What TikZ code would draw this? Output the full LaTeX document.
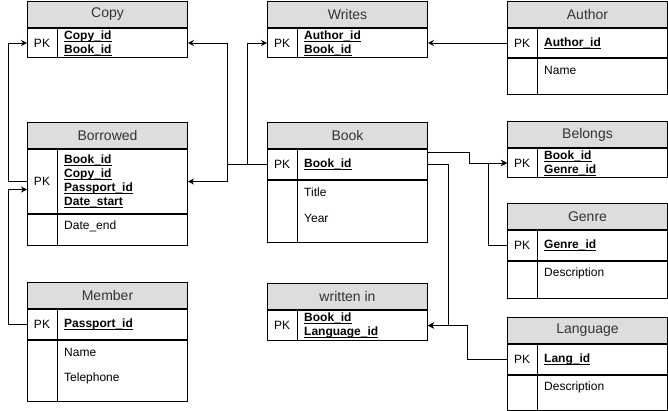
\documentclass[tikz,border=0pt]{standalone}
\usepackage{fontspec}
\setmainfont{Liberation Sans}
\usepackage{tikz}
\usetikzlibrary{arrows.meta}

\definecolor{hdrgray}{HTML}{DDDDDD}
\definecolor{hdrtext}{HTML}{333333}

\newsavebox\pkbox
\newcommand{\pkf}[1]{\sbox\pkbox{\bfseries #1}\rlap{\rule[-1.8pt]{\wd\pkbox}{0.7pt}}\usebox\pkbox}

\tikzset{
  tbl/.style = {draw, line width=1pt, minimum width=160pt, inner sep=0pt},
  hdr/.style = {tbl, fill=hdrgray, minimum height=26pt, text=hdrtext, font=\fontsize{14}{16}\selectfont},
  fld/.style = {anchor=west, align=left, inner sep=0pt, font=\fontsize{12}{14}\selectfont},
  pkl/.style = {inner sep=0pt, font=\fontsize{12}{14}\selectfont},
  link/.style = {line width=1pt, -{Stealth[length=6pt, width=6pt, inset=2pt]}},
}

% table: name, x, y, title, height of PK part, PK fields
\newcommand{\ertable}[6]{%
  \node[hdr, anchor=north west] (#1) at (#2,#3) {#4};
  \node[tbl, minimum height=#5pt, anchor=north] (#1pk) at (#1.south) {};
  \node[pkl] at ([xshift=15pt]#1pk.west) {PK};
  \node[fld] at ([xshift=37pt]#1pk.west) {#6};
  \draw[line width=1pt] ([xshift=30pt]#1pk.north west) -- ([xshift=30pt]#1pk.south west);
}
% attribute part: name, height, fields
\newcommand{\erattr}[3]{%
  \node[tbl, minimum height=#2pt, anchor=north] (#1at) at (#1pk.south) {};
  \draw[line width=1pt] ([xshift=30pt]#1at.north west) -- ([xshift=30pt]#1at.south west);
  \foreach \f [count=\i from 0] in {#3}
    \node[fld] at ([xshift=37pt, yshift={-(12+26*\i)*1pt}]#1at.north west) {\f};
}

\begin{document}
\begin{tikzpicture}[x=1pt, y=-1pt]
\useasboundingbox (0,0) rectangle (668,410);

% tables
\ertable{copy}{27}{1}{Copy}{29}{\pkf{Copy\_id}\\\pkf{Book\_id}}
\ertable{writes}{267}{1}{Writes}{29}{\pkf{Author\_id}\\\pkf{Book\_id}}
\ertable{author}{507}{1}{Author}{29}{\pkf{Author\_id}}
\erattr{author}{36}{Name}

\ertable{borrowed}{27}{122}{Borrowed}{64}{\pkf{Book\_id}\\\pkf{Copy\_id}\\\pkf{Passport\_id}\\\pkf{Date\_start}}
\erattr{borrowed}{31}{Date\_end}
\ertable{book}{267}{122}{Book}{30}{\pkf{Book\_id}}
\erattr{book}{62}{Title, Year}
\ertable{belongs}{507}{121}{Belongs}{29}{\pkf{Book\_id}\\\pkf{Genre\_id}}

\ertable{genre}{507}{203}{Genre}{30}{\pkf{Genre\_id}}
\erattr{genre}{37}{Description}

\ertable{member}{27}{282}{Member}{30}{\pkf{Passport\_id}}
\erattr{member}{61}{Name, Telephone}
\ertable{written}{267}{283}{written in}{30}{\pkf{Book\_id}\\\pkf{Language\_id}}
\ertable{lang}{507}{317}{Language}{30}{\pkf{Lang\_id}}
\erattr{lang}{35}{Description}

% connectors
\draw[link] (borrowedpk.west) -- ++(-19,0) |- (copypk.west);
\draw[link] (memberpk.west) -- ++(-19,0) |- ([yshift=-8pt]borrowedpk.west);
\draw[link] (bookpk.west) -- ++(-20,0) |- (writespk.west);
\draw[link] (bookpk.west) -- ++(-40,0) |- (copypk.east);
\draw[link] (bookpk.west) -- ++(-40,0) |- (borrowedpk.east);
\draw[link] (authorpk.west) -- (writespk.east);
\draw[link] ([yshift=-3pt]bookpk.north east) -- ++(41,0) |- (belongspk.west);
\draw[link] (genrepk.west) -- ++(-19,0) |- (belongspk.west);
\draw[link] (bookpk.east) -- ++(20,0) |- (writtenpk.east);
\draw[link] (langpk.west) -- ++(-40,0) |- (writtenpk.east);
\end{tikzpicture}
\end{document}
